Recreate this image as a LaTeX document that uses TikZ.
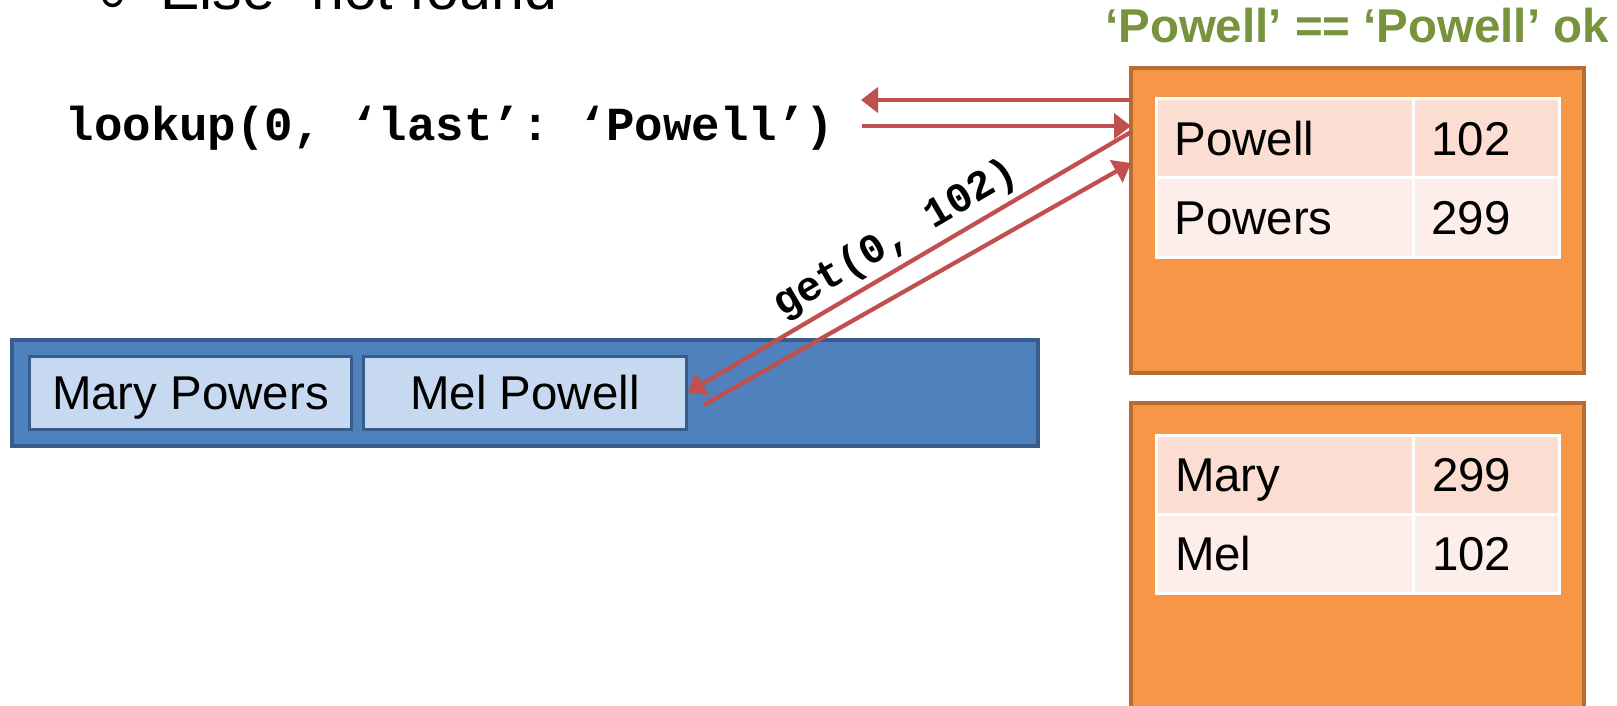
\documentclass[tikz,border=0pt]{standalone}
\usepackage{fontspec}
\setmainfont{Liberation Sans}
\setmonofont{Liberation Mono}
\usepackage{tikz}
\usepackage{xcolor}
\usetikzlibrary{arrows.meta, positioning, calc}
\definecolor{okcolor}{RGB}{119,147,60}
\definecolor{linkcolor}{RGB}{192,80,77}
\definecolor{indexcolor}{RGB}{247,150,70}
\definecolor{indexedge}{RGB}{182,109,49}
\definecolor{heapcolor}{RGB}{79,129,189}
\definecolor{heapedge}{RGB}{56,93,138}
\definecolor{tuplecolor}{RGB}{198,217,241}
\definecolor{rowone}{RGB}{252,221,209}
\definecolor{rowtwo}{RGB}{253,238,233}
\tikzstyle{indexpage} = [rectangle, draw=indexedge, fill=indexcolor, line width=0.08cm, minimum width=9.06cm, minimum height=6.1cm, outer sep=0pt]
\tikzstyle{keycell} = [rectangle, draw=white, line width=0.06cm, text width=4.4cm, inner xsep=0.37cm, text height=19.3pt, text depth=0pt, minimum height=1.58cm, align=left, outer sep=0pt, font=\fontsize{27}{32}\selectfont]
\tikzstyle{valcell} = [keycell, text width=2.18cm]
\tikzstyle{tuple} = [rectangle, draw=heapedge, fill=tuplecolor, line width=0.06cm, minimum width=6.45cm, minimum height=1.46cm, text height=19.3pt, text depth=0pt, font=\fontsize{27}{32}\selectfont]
\tikzstyle{arrow} = [-{Triangle[length=0.34cm, width=0.5cm]}, line width=0.085cm, linkcolor]

\begin{document}
\begin{tikzpicture}
    \useasboundingbox (0,0) rectangle (32.34,-14.12);
    \clip (0,0) rectangle (32.34,-14.12);

    % last bullet of the slide text
    \node[circle, draw, line width=0.07cm, minimum size=0.34cm, inner sep=0pt] (bullet) at (2.25,0.06) {};
    \node[anchor=base west, inner sep=0pt, font=\fontsize{33.6}{40}\selectfont] (else_text) at (3.2,-0.2) {Else- not found};

    % index lookup
    \node[anchor=base, inner sep=0pt, font=\ttfamily\bfseries\fontsize{27}{32}\selectfont] (query) at (9.0,-2.82) {lookup(0, ‘last’: ‘Powell’)};
    \node[anchor=base, inner sep=0pt, text=okcolor, font=\bfseries\fontsize{27}{32}\selectfont] (match) at (27.14,-0.86) {‘Powell’ == ‘Powell’ ok};

    % heap file
    \node[rectangle, draw=heapedge, fill=heapcolor, line width=0.08cm, minimum width=20.52cm, minimum height=2.12cm] (heap) at (10.5,-7.86) {};
    \node[tuple] (mary) at (3.81,-7.85) {Mary Powers};
    \node[tuple] (mel) at (10.5,-7.85) {Mel Powell};

    % index on last name
    \node[indexpage] (page1) at (27.15,-4.41) {};
    \node[keycell, fill=rowone] (k11) at (25.69,-2.77) {Powell};
    \node[valcell, fill=rowone, right=0pt of k11] (v11) {102};
    \node[keycell, fill=rowtwo, below=0pt of k11] (k12) {Powers};
    \node[valcell, fill=rowtwo, right=0pt of k12] (v12) {299};

    % index on first name
    \node[indexpage] (page2) at (27.15,-11.11) {};
    \node[keycell, fill=rowone] (k21) at (25.7,-9.49) {Mary};
    \node[valcell, fill=rowone, right=0pt of k21] (v21) {299};
    \node[keycell, fill=rowtwo, below=0pt of k21] (k22) {Mel};
    \node[valcell, fill=rowtwo, right=0pt of k22] (v22) {102};

    % requests and replies
    \coordinate (ret) at (17.22,-2.0);
    \coordinate (req) at (17.24,-2.52);
    \coordinate (tid) at ([xshift=0.32cm, yshift=-0.25cm]mel.east);
    \draw[arrow] (page1.west |- ret) -- (ret);
    \draw[arrow] (req) -- (page1.west |- req);
    \draw[arrow] ([yshift=-1.28cm]page1.north west) -- node[midway, sloped, above, inner sep=3pt, text=black, font=\ttfamily\bfseries\fontsize{23.7}{28}\selectfont] (get) {get(0, 102)} (mel.east);
    \draw[arrow] (tid) -- ([yshift=-1.9cm]page1.north west);

\end{tikzpicture}
\end{document}
